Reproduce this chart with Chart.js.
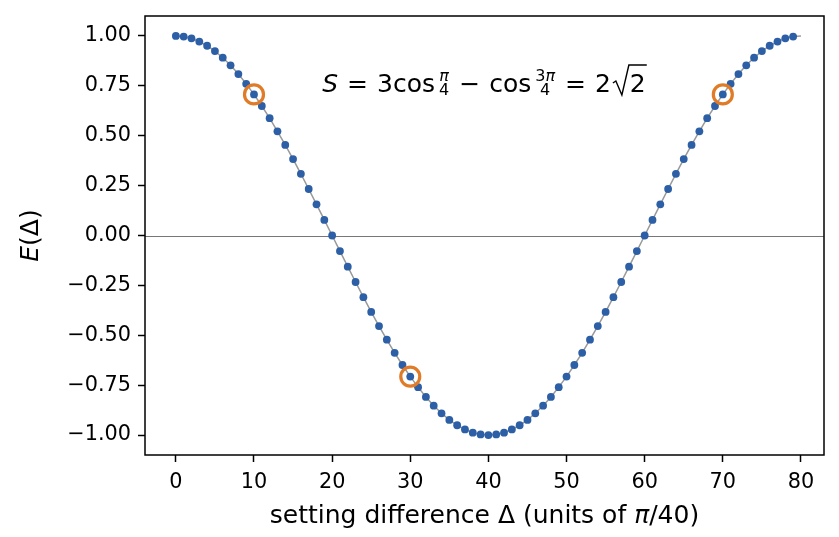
<!DOCTYPE html>
<html><head><meta charset="utf-8">
<script src="https://cdn.jsdelivr.net/npm/chart.js@4.4.1/dist/chart.umd.min.js"></script>
<style>html,body{margin:0;padding:0;background:#fff}canvas{display:block}</style>
</head><body>
<canvas id="c" width="839" height="537"></canvas>
<script>
// setting difference Δ (units of π/40)
const deltas = [0,1,2,3,4,5,6,7,8,9,10,11,12,13,14,15,16,17,18,19,20,21,22,23,24,25,26,27,28,29,30,31,32,33,34,35,36,37,38,39,40,41,42,43,44,45,46,47,48,49,50,51,52,53,54,55,56,57,58,59,60,61,62,63,64,65,66,67,68,69,70,71,72,73,74,75,76,77,78,79,80];
// correlation E(Δ)
const correlation = [1.000,0.997,0.988,0.972,0.951,0.924,0.891,0.853,0.809,0.760,0.707,0.649,0.588,0.522,0.454,0.383,0.309,0.233,0.156,0.078,0.000,-0.078,-0.156,-0.233,-0.309,-0.383,-0.454,-0.522,-0.588,-0.649,-0.707,-0.760,-0.809,-0.853,-0.891,-0.924,-0.951,-0.972,-0.988,-0.997,-1.000,-0.997,-0.988,-0.972,-0.951,-0.924,-0.891,-0.853,-0.809,-0.760,-0.707,-0.649,-0.588,-0.522,-0.454,-0.383,-0.309,-0.233,-0.156,-0.078,0.000,0.078,0.156,0.233,0.309,0.383,0.454,0.522,0.588,0.649,0.707,0.760,0.809,0.853,0.891,0.924,0.951,0.972,0.988,0.997,1.000];
// sampled points are Δ = 0..79 (the curve continues to 80)
const sampleCount = 80;
const highlightDeltas = [10, 30, 70];
const highlightValues = [0.707, -0.707, 0.707];
const xTicks = [0,10,20,30,40,50,60,70,80];
const yTicks = [-1.00,-0.75,-0.50,-0.25,0.00,0.25,0.50,0.75,1.00];

const FAM = '"DejaVu Sans"';
const TICK_PX = 20.8;
const LABEL_PX = 25;

const curveData = deltas.map((d, i) => ({x: d, y: correlation[i]}));
const dotData = deltas.slice(0, sampleCount).map((d, i) => ({x: d, y: correlation[i]}));
const ringData = highlightDeltas.map((d, i) => ({x: d, y: highlightValues[i]}));

function drawRuns(ctx, runs, cx, y) {
  let total = 0;
  runs.forEach(r => { ctx.font = r.font; r.w = ctx.measureText(r.text).width; total += r.w; });
  let x = cx - total / 2;
  ctx.textAlign = 'left';
  runs.forEach(r => { ctx.font = r.font; ctx.fillText(r.text, x, y); x += r.w; });
}

const decor = {
  id: 'decor',
  beforeDatasetsDraw(chart) {
    const {ctx, chartArea: a, scales: {y}} = chart;
    const py = Math.round(y.getPixelForValue(0)) + 0.5;
    ctx.save();
    ctx.strokeStyle = '#777777';
    ctx.lineWidth = 1.2;
    ctx.beginPath(); ctx.moveTo(a.left, py); ctx.lineTo(a.right, py); ctx.stroke();
    ctx.restore();
  },
  afterDraw(chart) {
    const {ctx, chartArea: a} = chart;
    ctx.save();
    // frame
    ctx.strokeStyle = '#000'; ctx.lineWidth = 1.5;
    ctx.strokeRect(a.left, a.top, a.right - a.left, a.bottom - a.top);
    ctx.fillStyle = '#000';
    ctx.textBaseline = 'alphabetic';
    const up = s => `${s}px ${FAM}`;
    const it = s => `italic ${s}px ${FAM}`;
    // x axis title
    drawRuns(ctx, [
      {text: 'setting difference Δ (units of ', font: up(LABEL_PX)},
      {text: 'π', font: it(LABEL_PX)},
      {text: '/40)', font: up(LABEL_PX)}
    ], (a.left + a.right) / 2, 523);
    // y axis title
    ctx.save();
    ctx.translate(38, (a.top + a.bottom) / 2);
    ctx.rotate(-Math.PI / 2);
    drawRuns(ctx, [
      {text: 'E', font: it(LABEL_PX)},
      {text: '(Δ)', font: up(LABEL_PX)}
    ], 0, 0);
    ctx.restore();
    // formula
    const big = 25, small = 16, g = 9;
    const base = a.top + 76;
    const items = [
      {t: 'text', text: 'S', font: it(big)},
      {t: 'gap', w: g},
      {t: 'text', text: '=', font: up(big)},
      {t: 'gap', w: g},
      {t: 'text', text: '3cos', font: up(big)},
      {t: 'gap', w: 3},
      {t: 'frac', num: [{text: 'π', font: it(small)}], den: [{text: '4', font: up(small)}]},
      {t: 'gap', w: g},
      {t: 'text', text: '−', font: up(big)},
      {t: 'gap', w: g},
      {t: 'text', text: 'cos', font: up(big)},
      {t: 'gap', w: 3},
      {t: 'frac', num: [{text: '3', font: up(small)}, {text: 'π', font: it(small)}], den: [{text: '4', font: up(small)}]},
      {t: 'gap', w: g},
      {t: 'text', text: '=', font: up(big)},
      {t: 'gap', w: g},
      {t: 'text', text: '2', font: up(big)},
      {t: 'gap', w: 2},
      {t: 'sqrt', text: '2', font: up(big)}
    ];
    const runW = rs => rs.reduce((s, r) => { ctx.font = r.font; r.w = ctx.measureText(r.text).width; return s + r.w; }, 0);
    let total = 0;
    items.forEach(o => {
      if (o.t === 'text') { ctx.font = o.font; o.w = ctx.measureText(o.text).width; }
      else if (o.t === 'frac') { o.nw = runW(o.num); o.dw = runW(o.den); o.w = Math.max(o.nw, o.dw) + 2; }
      else if (o.t === 'sqrt') { ctx.font = o.font; o.iw = ctx.measureText(o.text).width; o.w = 17 + o.iw + 1; }
      total += o.w;
    });
    let x = (a.left + a.right) / 2 - total / 2;
    ctx.textAlign = 'left';
    items.forEach(o => {
      if (o.t === 'text') { ctx.font = o.font; ctx.fillText(o.text, x, base); }
      else if (o.t === 'frac') {
        let nx = x + (o.w - o.nw) / 2;
        o.num.forEach(r => { ctx.font = r.font; ctx.fillText(r.text, nx, base - 11); nx += r.w; });
        let dx = x + (o.w - o.dw) / 2;
        o.den.forEach(r => { ctx.font = r.font; ctx.fillText(r.text, dx, base + 3); dx += r.w; });
      } else if (o.t === 'sqrt') {
        ctx.strokeStyle = '#000'; ctx.lineWidth = 1.4; ctx.lineJoin = 'miter';
        ctx.beginPath();
        ctx.moveTo(x, base - 9);
        ctx.lineTo(x + 3, base - 11);
        ctx.lineTo(x + 9, base + 3);
        ctx.lineTo(x + 16, base - 27);
        ctx.lineTo(x + o.w, base - 27);
        ctx.stroke();
        ctx.font = o.font; ctx.fillText(o.text, x + 17, base);
      }
      x += o.w;
    });
    ctx.restore();
  }
};

const tickFont = {family: FAM, size: TICK_PX};

new Chart(document.getElementById('c'), {
  type: 'scatter',
  data: {
    datasets: [
      {data: ringData, pointRadius: 9.5, pointBorderWidth: 3.2, pointBackgroundColor: 'rgba(0,0,0,0)', pointBorderColor: '#e07b27', showLine: false, order: 0},
      {data: dotData, pointRadius: 3.9, pointBorderWidth: 0, pointBackgroundColor: '#2c5fa6', pointBorderColor: '#2c5fa6', showLine: false, order: 1},
      {data: curveData, pointRadius: 0, borderColor: '#999999', borderWidth: 1.5, showLine: true, order: 2}
    ]
  },
  options: {
    responsive: false,
    animation: false,
    events: [],
    layout: {padding: {left: 0, right: 15, top: 16, bottom: 0}},
    plugins: {legend: {display: false}, tooltip: {enabled: false}},
    scales: {
      x: {
        type: 'linear', min: -3.95, max: 82.95,
        afterBuildTicks: s => { s.ticks = xTicks.map(v => ({value: v})); },
        afterFit: s => { s.height = 82; s.paddingLeft = 0; s.paddingRight = 0; },
        ticks: {font: tickFont, color: '#000', padding: 8, autoSkip: false, maxRotation: 0, callback: v => String(v)},
        grid: {display: true, drawOnChartArea: false, drawTicks: true, tickLength: 7, tickColor: '#000', tickWidth: 1.5},
        border: {display: false}
      },
      y: {
        type: 'linear', min: -1.1, max: 1.1,
        afterBuildTicks: s => { s.ticks = yTicks.map(v => ({value: v})); },
        afterFit: s => { s.width = 145; s.paddingTop = 0; s.paddingBottom = 0; },
        ticks: {font: tickFont, color: '#000', padding: 7, callback: v => v.toFixed(2).replace('-', '−')},
        grid: {display: true, drawOnChartArea: false, drawTicks: true, tickLength: 7, tickColor: '#000', tickWidth: 1.5},
        border: {display: false}
      }
    }
  },
  plugins: [decor]
});
</script>
</body></html>
